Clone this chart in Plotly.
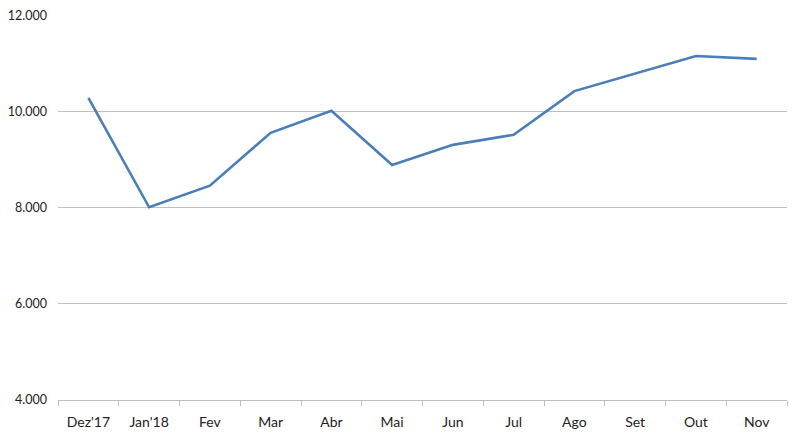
import plotly.graph_objects as go

months = ["Dez'17", "Jan'18", "Fev", "Mar", "Abr", "Mai", "Jun", "Jul", "Ago", "Set", "Out", "Nov"]
values = [10290, 8010, 8460, 9560, 10020, 8890, 9310, 9520, 10430, 10790, 11160, 11100]
y_ticks = [4000, 6000, 8000, 10000, 12000]
y_tick_labels = ["4.000", "6.000", "8.000", "10.000", "12.000"]

fig = go.Figure()
fig.add_trace(go.Scatter(
    x=months, y=values, mode="lines",
    line=dict(color="#4A7EBB", width=2.6),
    hoverinfo="x+y",
))

fig.update_layout(
    width=800, height=440,
    margin=dict(l=50, r=21, t=7, b=48),
    paper_bgcolor="white", plot_bgcolor="white",
    showlegend=False,
    font=dict(family="Lato, 'Open Sans', sans-serif", size=13, color="#222222"),
)
fig.update_xaxes(
    type="category",
    range=[-0.5, len(months) - 0.5],
    automargin=False,
    showgrid=False,
    showline=True, linecolor="#BFBFBF", linewidth=1,
    ticks="outside", tickson="boundaries", ticklen=5, tickcolor="#BFBFBF",
    ticklabelstandoff=9,
    tickfont=dict(size=14),
)
fig.update_yaxes(
    range=[3995, 12015],
    automargin=False,
    tickvals=y_ticks, ticktext=y_tick_labels,
    showgrid=True, gridcolor="#BFBFBF", gridwidth=1,
    zeroline=False, showline=False,
    ticklabelstandoff=10,
    ticklabeloverflow="allow",
    tickfont=dict(size=12.5),
)

fig.write_html("out.html")
